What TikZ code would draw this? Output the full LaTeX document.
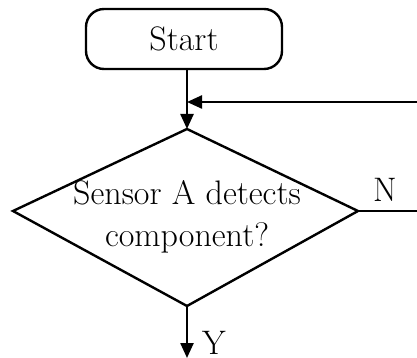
\documentclass[tikz,border=0pt]{standalone}
\usetikzlibrary{arrows.meta}
\begin{document}
\begin{tikzpicture}[x=1pt,y=-1pt,
  line width=2.4pt,
  every node/.style={font=\fontsize{34}{42}\selectfont},
  flow/.style={-{Triangle[length=15pt,width=13pt]}},
  terminal/.style={draw,rounded corners=18pt,minimum width=196pt,minimum height=60pt,inner sep=0pt},
  label/.style={inner sep=0pt,align=center}]
\useasboundingbox (0,0) rectangle (417,358);
% start terminal
\node[terminal] (start) at (184,39) {Start};
% decision diamond
\coordinate (dtop) at (187,129);
\coordinate (dright) at (358,211);
\coordinate (dbot) at (187,306);
\coordinate (dleft) at (13,211);
\draw[line join=miter] (dtop) -- (dright) -- (dbot) -- (dleft) -- cycle;
\node[label] (sense) at (187,217) {Sensor A detects\\component?};
% connectors
\coordinate (startout) at (start.south -| dtop);
\coordinate (loop) at (417,102);
\coordinate (merge) at (dtop |- loop);
\coordinate (noend) at (417,211);
\coordinate (yesend) at (187,358);
\draw[flow] (startout) -- (dtop);
\draw[flow] (loop) -- (merge);
\draw (dright) -- (noend);
\draw[flow] (dbot) -- (yesend);
\node[label] (nlab) at (385,190) {N};
\node[label] (ylab) at (214,343) {Y};
\end{tikzpicture}
\end{document}
